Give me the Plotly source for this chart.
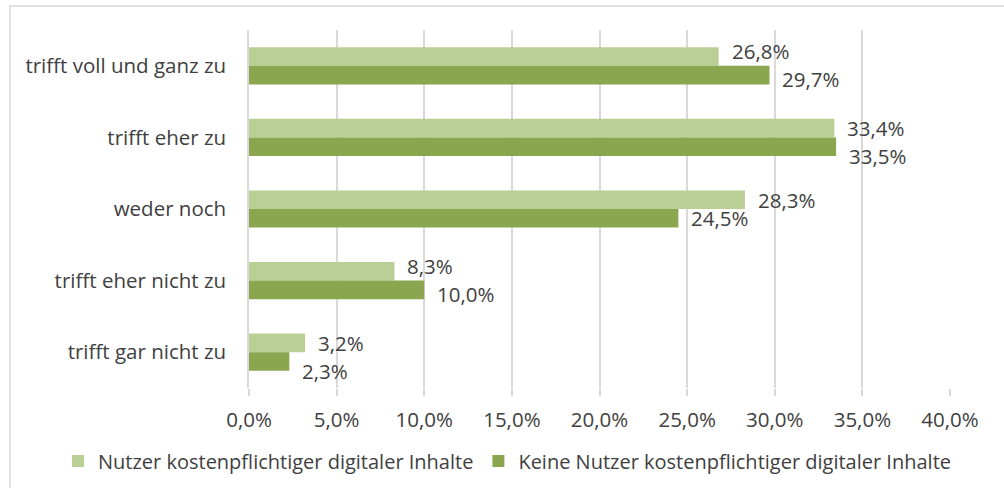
import plotly.graph_objects as go

categories = ["trifft voll und ganz zu", "trifft eher zu", "weder noch",
              "trifft eher nicht zu", "trifft gar nicht zu"]
nutzer = [26.8, 33.4, 28.3, 8.3, 3.2]
keine_nutzer = [29.7, 33.5, 24.5, 10.0, 2.3]
series_names = ["Nutzer kostenpflichtiger digitaler Inhalte",
                "Keine Nutzer kostenpflichtiger digitaler Inhalte"]
tick_values = [0, 5, 10, 15, 20, 25, 30, 35, 40]


def fmt(v):
    return f"{v:.1f}%".replace(".", ",")


tick_labels = [fmt(v) for v in tick_values]

light = "#B9CF96"
dark = "#8AA64E"
txt = "#404040"
grid = "#D9D9D9"
font_family = "Open Sans, Noto Sans, sans-serif"
FS = 20.5
FS_LEG = 20

W, H = 1004, 488
L, R, T, B = 249, 54, 30, 100
pw, ph = W - L - R, H - T - B
X_MAX = 40
BARGAP = 0.48

fig = go.Figure()
for name, vals, col in [(series_names[0], nutzer, light),
                        (series_names[1], keine_nutzer, dark)]:
    fig.add_trace(go.Bar(
        y=categories, x=vals, name=name, orientation="h",
        marker=dict(color=col, line=dict(width=0)),
        cliponaxis=False, hoverinfo="skip",
    ))

# value labels (outside end), nudged apart vertically when they would collide
cat_px = ph / len(categories)
bar_px = cat_px * (1 - BARGAP) / 2
px_per_unit = pw / X_MAX
LABEL_W = 62
MIN_SEP = 28
annotations = []
for cat, a, b in zip(categories, nutzer, keine_nutzer):
    up_light, down_dark = 0.0, 0.0
    if abs(a - b) * px_per_unit < LABEL_W:
        extra = MIN_SEP - bar_px
        if abs(a - b) < 1:
            down_dark = extra
        else:
            up_light = extra * 0.55
            down_dark = extra * 0.45
    for val, centre, nudge in [(a, bar_px / 2, up_light),
                               (b, -bar_px / 2, -down_dark)]:
        annotations.append(dict(
            x=val, y=cat, xref="x", yref="y", text=fmt(val),
            showarrow=False, xanchor="left", yanchor="middle",
            xshift=11, yshift=centre + nudge,
            font=dict(size=FS, color=txt, family=font_family),
        ))

fig.update_layout(
    width=W, height=H,
    margin=dict(l=L, r=R, t=T, b=B, autoexpand=False),
    paper_bgcolor="white", plot_bgcolor="white",
    barmode="group", bargap=BARGAP, bargroupgap=0,
    font=dict(family=font_family, size=FS, color=txt),
    showlegend=True,
    legend=dict(orientation="h", x=(58 - L) / pw, y=(H - B - 461) / ph,
                xanchor="left", yanchor="middle",
                font=dict(size=FS_LEG, color=txt), traceorder="normal"),
    xaxis=dict(range=[0, X_MAX], tickvals=tick_values, ticktext=tick_labels,
               showgrid=True, gridcolor=grid, gridwidth=1.5,
               zeroline=False, ticks="outside", ticklen=7, tickcolor=grid,
               tickwidth=1.5, ticklabelstandoff=6, automargin=False,
               tickfont=dict(size=FS, color=txt)),
    yaxis=dict(autorange="reversed", showline=True, linecolor=grid,
               linewidth=1.5, ticks="", ticklabelstandoff=17, automargin=False,
               tickfont=dict(size=FS, color=txt)),
    annotations=annotations,
    shapes=[dict(type="rect", xref="paper", yref="paper",
                 x0=(10 - L) / pw, x1=(1010 - L) / pw,
                 y0=(H - B - 495) / ph, y1=(H - B - 6) / ph,
                 line=dict(color=grid, width=1.5), fillcolor="rgba(0,0,0,0)",
                 layer="below")],
)

fig.write_html("out.html",
               config={"displayModeBar": False},
               post_script="document.body.style.margin='0';"
                           "document.body.style.overflow='hidden';")
